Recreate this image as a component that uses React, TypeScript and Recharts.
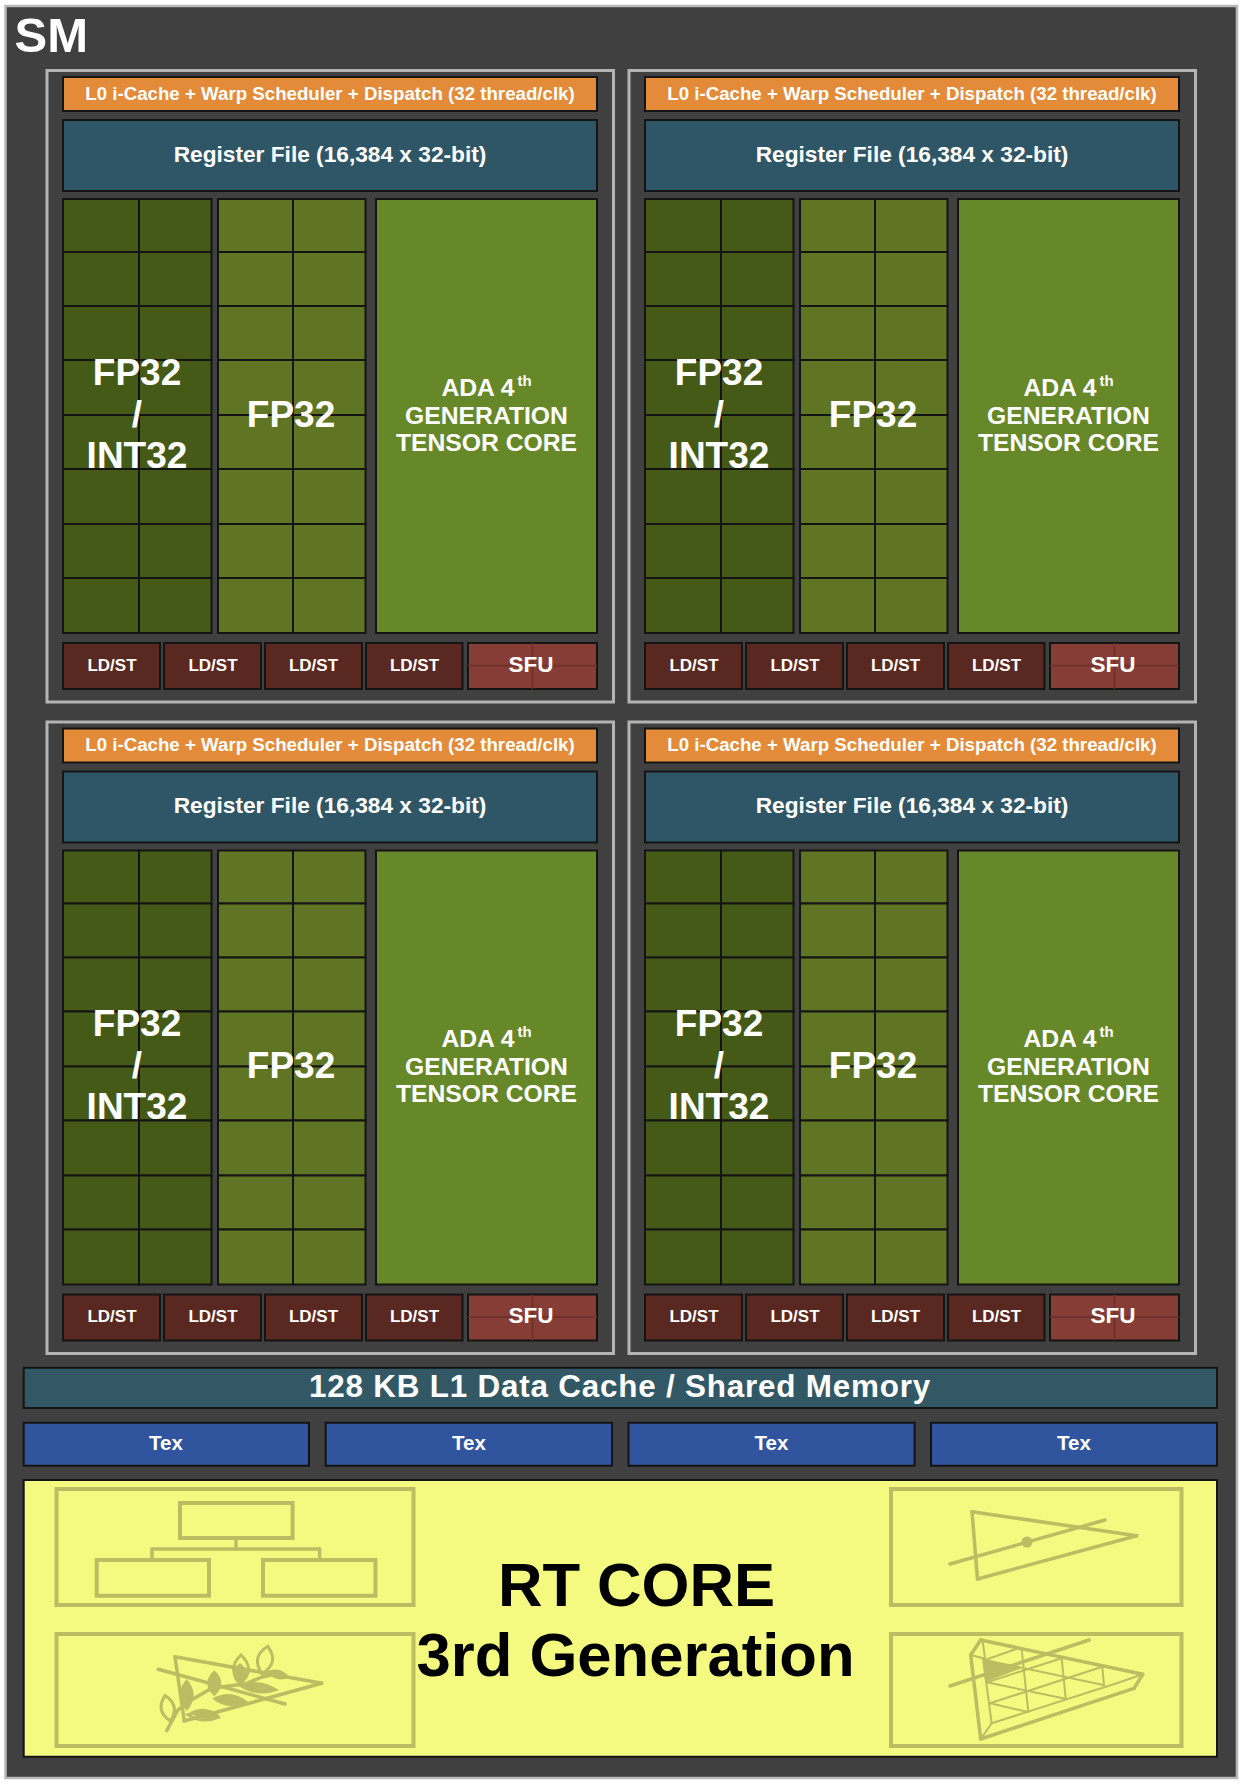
import { ScatterChart, Scatter, XAxis, YAxis, ReferenceArea, ReferenceLine } from "recharts";

// chart units are the pixels of the original figure
const moduleDx = [0, 582];
const moduleDy = [0, 651.4];

const orangeY = [77, 111];
const registerY = [120, 191];
const blockX = [63, 597];
const unitY = [199, 633];
const rowEdges = [199, 252, 306, 360, 415, 469, 524, 578, 633];
const fpIntCols = [[63, 139], [139, 211.5]];
const fpCols = [[218, 293], [293, 365.5]];
const tensorX = [376, 597];
const ldstX = [[63, 160], [164, 261], [265, 362], [366, 462.5]];
const ldstY = [643, 689];
const sfuX = [468, 597];

const texX = [[23.7, 309], [325.7, 612], [628.5, 914.6], [931, 1217]];
const texCentres = [166, 469, 771.5, 1074];
const iconBoxes = [
  [56.5, 413.5, 1489, 1605],
  [56.5, 413.5, 1634, 1746],
  [891, 1181.5, 1489, 1605],
  [891, 1181.5, 1634, 1746],
];
const treeBoxes = [
  [180, 292.6, 1503, 1538],
  [96.7, 209, 1560, 1595.7],
  [263, 375.5, 1560, 1595.7],
];
const treeLinks = [
  [236, 1538, 236, 1549],
  [152, 1549, 319.6, 1549],
  [152, 1549, 152, 1560],
  [319.6, 1549, 319.6, 1560],
];
const rayTriangle = [
  [972, 1511.7, 1136.6, 1535.7],
  [1136.6, 1535.7, 977.5, 1579],
  [977.5, 1579, 972, 1511.7],
  [950, 1564, 1105, 1520],
];
const rayHit = [{ x: 1027, y: 1542 }];
const meshOutline = [
  [980.7, 1640, 1142.7, 1674.3],
  [1142.7, 1674.3, 1134, 1688.3],
  [1134, 1688.3, 980.7, 1739],
  [980.7, 1739, 970.7, 1655],
  [970.7, 1655, 980.7, 1640],
  [950, 1686, 1089, 1640],
];
const meshInner = [
  [983, 1658.3, 991.7, 1723.3],
  [991.7, 1723.3, 1116.7, 1683.3],
  [1116.7, 1683.3, 1142.7, 1674.3],
  [991.7, 1723.3, 980.7, 1739],
  [970.7, 1655, 983, 1658.3],
  [982.7, 1641.7, 985, 1658.3],
  [1021.7, 1650, 1028.3, 1711.7],
  [1061.7, 1658.3, 1065.7, 1698.3],
  [1102.3, 1666.7, 1104, 1685],
  [985, 1660, 1018.3, 1648.3],
  [986.7, 1682.3, 1061.7, 1658.3],
  [990, 1703.3, 1102.3, 1666.7],
  [985, 1660, 1103.3, 1685],
  [986.7, 1682.3, 1066.7, 1699],
  [990, 1703.3, 1028.3, 1712],
];
const wedgeAnchor = [{ x: 983, y: 1660 }];
const wedgeCorners = [[983, 1660], [1022, 1668], [985, 1682]];
const leafTriangle = [
  [175, 1656.7, 321.7, 1683.3],
  [321.7, 1683.3, 184.3, 1721],
  [184.3, 1721, 175, 1656.7],
  [158.3, 1669.3, 285, 1704],
];
const leafStem = [
  [166.7, 1730.7, 178, 1710],
  [178, 1710, 188, 1702],
  [188, 1702, 212, 1688],
  [212, 1688, 245, 1684],
  [245, 1684, 262, 1677],
  [262, 1677, 280, 1673],
];
const filledLeaves = [
  { x: 186.7, y: 1695, w: 7, l: 16, angle: 0 },
  { x: 214.3, y: 1683.3, w: 7, l: 13, angle: 0 },
  { x: 240, y: 1674, w: 7, l: 11, angle: 0 },
  { x: 258.3, y: 1687.7, w: 5.5, l: 21, angle: 97 },
  { x: 230, y: 1700, w: 6, l: 18, angle: 95 },
  { x: 205, y: 1714, w: 5, l: 15, angle: 98 },
  { x: 278.3, y: 1674.5, w: 4.5, l: 12, angle: 105 },
];
const outlineLeaves = [
  { x: 241, y: 1669, w: 7.5, l: 14, angle: 0 },
  { x: 265, y: 1660, w: 7.5, l: 14, angle: 12 },
  { x: 167.7, y: 1708.3, w: 6.5, l: 13, angle: -12 },
  { x: 203, y: 1716, w: 4, l: 15, angle: 95 },
];

const orangeLabel = "L0 i-Cache + Warp Scheduler + Dispatch (32 thread/clk)";
const registerLabel = "Register File (16,384 x 32-bit)";
const ldstCentres = [112, 213, 313.5, 414.5];

const INK = "#141414";
const ICON = "#bcbd62";
const FONT = "'Liberation Sans', Arial, sans-serif";

type Lbl = { x: number; y: number; text: string };

function makeModuleLabels() {
  const out: Record<string, Lbl[]> = { orange: [], reg: [], big: [], tensor: [], th: [], ldst: [], sfu: [] };
  moduleDx.forEach((dx) =>
    moduleDy.forEach((dy) => {
      out.orange.push({ x: 330 + dx, y: 99.5 + dy, text: orangeLabel });
      out.reg.push({ x: 330 + dx, y: 161.5 + dy, text: registerLabel });
      out.big.push({ x: 137 + dx, y: 385 + dy, text: "FP32" });
      out.big.push({ x: 137 + dx, y: 427 + dy, text: "/" });
      out.big.push({ x: 137 + dx, y: 468 + dy, text: "INT32" });
      out.big.push({ x: 291 + dx, y: 427 + dy, text: "FP32" });
      out.tensor.push({ x: 478 + dx, y: 396 + dy, text: "ADA 4" });
      out.tensor.push({ x: 486.5 + dx, y: 423.5 + dy, text: "GENERATION" });
      out.tensor.push({ x: 486.5 + dx, y: 450.5 + dy, text: "TENSOR CORE" });
      out.th.push({ x: 524.5 + dx, y: 385.5 + dy, text: "th" });
      ldstCentres.forEach((c) => out.ldst.push({ x: c + dx, y: 670.5 + dy, text: "LD/ST" }));
      out.sfu.push({ x: 531 + dx, y: 672 + dy, text: "SFU" });
    }),
  );
  return out;
}
const moduleLabels = makeModuleLabels();
const titleLabels: Lbl[] = [{ x: 14.5, y: 51.5, text: "SM" }];
const cacheLabels: Lbl[] = [{ x: 620, y: 1397, text: "128 KB L1 Data Cache / Shared Memory" }];
const texLabels: Lbl[] = texCentres.map((x) => ({ x, y: 1450, text: "Tex" }));
const rtLabels: Lbl[] = [
  { x: 636.5, y: 1606, text: "RT CORE" },
  { x: 635.5, y: 1676, text: "3rd Generation" },
];

function box(k: string, x: number[], y: number[], fill: string, stroke = INK, sw = 2) {
  return (
    <ReferenceArea key={k} x1={x[0]} x2={x[1]} y1={y[0]} y2={y[1]} fill={fill} fillOpacity={fill === "none" ? 0 : 1}
      stroke={stroke} strokeWidth={sw} ifOverflow="visible" />
  );
}

function seg(k: string, s: number[], stroke: string, sw: number) {
  return (
    <ReferenceLine key={k} segment={[{ x: s[0], y: s[1] }, { x: s[2], y: s[3] }]} stroke={stroke} strokeWidth={sw}
      strokeLinecap="round" ifOverflow="visible" />
  );
}

function textSeries(k: string, data: Lbl[], size: number, fill = "#fff", anchor = "middle", spacing = 0) {
  return (
    <Scatter key={k} data={data} isAnimationActive={false}
      shape={(p: any) => (
        <text x={p.cx} y={p.cy} textAnchor={anchor} fontFamily={FONT} fontWeight="bold" fontSize={size} fill={fill}
          letterSpacing={spacing}>
          {p.payload.text}
        </text>
      )} />
  );
}

function leafSeries(k: string, data: any[], filled: boolean) {
  return (
    <Scatter key={k} data={data} isAnimationActive={false}
      shape={(p: any) => {
        const { w, l, angle } = p.payload;
        return (
          <path d={`M0,${-l} Q${2 * w},0 0,${l} Q${-2 * w},0 0,${-l}Z`}
            transform={`translate(${p.cx} ${p.cy}) rotate(${angle})`}
            fill={filled ? ICON : "none"} stroke={ICON} strokeWidth={filled ? 0 : 3} />
        );
      }} />
  );
}

function moduleBlocks(dx: number, dy: number) {
  const X = (a: number[]) => a.map((v) => v + dx);
  const Y = (a: number[]) => a.map((v) => v + dy);
  const id = `${dx}-${dy}`;
  const out: any[] = [];
  out.push(box(`frame${id}`, X([47, 613.5]), Y([70.5, 702]), "none", "#b4b4b4", 3));
  out.push(box(`or${id}`, X(blockX), Y(orangeY), "#e38b38"));
  out.push(box(`rf${id}`, X(blockX), Y(registerY), "#2f5666"));
  rowEdges.slice(1).forEach((bottom, r) => {
    fpIntCols.forEach((c, i) => out.push(box(`a${id}${r}${i}`, X(c), Y([rowEdges[r], bottom]), "#445a16")));
    fpCols.forEach((c, i) => out.push(box(`b${id}${r}${i}`, X(c), Y([rowEdges[r], bottom]), "#5f7523")));
  });
  out.push(box(`t${id}`, X(tensorX), Y(unitY), "#668829"));
  ldstX.forEach((c, i) => out.push(box(`l${id}${i}`, X(c), Y(ldstY), "#592821")));
  out.push(box(`s${id}`, X(sfuX), Y(ldstY), "#863d35"));
  return out;
}

function sfuCross(dx: number, dy: number) {
  return [
    seg(`cv${dx}${dy}`, [532.5 + dx, 644 + dy, 532.5 + dx, 688 + dy], "#6f332c", 2),
    seg(`ch${dx}${dy}`, [469 + dx, 665.7 + dy, 596 + dx, 665.7 + dy], "#6f332c", 2),
  ];
}

export default function App() {
  return (
    <div style={{ position: "absolute", left: 0, top: 0, width: 1244, height: 1784, background: "#fff" }}>
      <ScatterChart width={1244} height={1784} margin={{ top: 0, right: 0, bottom: 0, left: 0 }}>
        <XAxis type="number" dataKey="x" domain={[0, 1244]} hide />
        <YAxis type="number" dataKey="y" domain={[0, 1784]} reversed hide />

        {box("panel", [5.5, 1237], [6, 1778], "#404040", "#b9b9b9", 2.5)}
        {moduleDx.map((dx) => moduleDy.map((dy) => moduleBlocks(dx, dy)))}
        {box("l1", [23.7, 1217], [1367.7, 1408], "#315864")}
        {texX.map((x, i) => box(`tex${i}`, x, [1422.7, 1465.7], "#30549e"))}
        {box("rt", [23.7, 1217], [1480, 1756.7], "#f4f97f")}
        {iconBoxes.map((b, i) => box(`icon${i}`, [b[0], b[1]], [b[2], b[3]], "none", ICON, 4))}
        {treeBoxes.map((b, i) => box(`tree${i}`, [b[0], b[1]], [b[2], b[3]], "none", ICON, 4))}

        {moduleDx.map((dx) => moduleDy.map((dy) => sfuCross(dx, dy)))}
        {treeLinks.map((s, i) => seg(`tl${i}`, s, ICON, 3.5))}
        {rayTriangle.map((s, i) => seg(`rt${i}`, s, ICON, 3.5))}
        {meshOutline.map((s, i) => seg(`mo${i}`, s, ICON, 3.5))}
        {meshInner.map((s, i) => seg(`mi${i}`, s, ICON, 2))}
        {leafTriangle.map((s, i) => seg(`lt${i}`, s, ICON, 3.5))}
        {leafStem.map((s, i) => seg(`ls${i}`, s, ICON, 3.5))}

        <Scatter data={rayHit} isAnimationActive={false} fill={ICON}
          shape={(p: any) => <circle cx={p.cx} cy={p.cy} r={5.5} fill={ICON} />} />
        <Scatter data={wedgeAnchor} isAnimationActive={false} fill={ICON}
          shape={(p: any) => (
            <polygon fill={ICON}
              points={wedgeCorners.map((c) => `${p.cx + c[0] - wedgeAnchor[0].x},${p.cy + c[1] - wedgeAnchor[0].y}`).join(" ")} />
          )} />
        {leafSeries("leafF", filledLeaves, true)}
        {leafSeries("leafO", outlineLeaves, false)}

        {textSeries("sm", titleLabels, 49, "#fff", "start")}
        {textSeries("or", moduleLabels.orange, 18.7)}
        {textSeries("reg", moduleLabels.reg, 22.7)}
        {textSeries("big", moduleLabels.big, 37)}
        {textSeries("ten", moduleLabels.tensor, 24.7)}
        {textSeries("th", moduleLabels.th, 15)}
        {textSeries("ld", moduleLabels.ldst, 17)}
        {textSeries("sfu", moduleLabels.sfu, 22.5)}
        {textSeries("l1t", cacheLabels, 31.4, "#fff", "middle", 0.8)}
        {textSeries("tx", texLabels, 20.5)}
        {textSeries("rtt", rtLabels, 61.6, "#000")}
      </ScatterChart>
    </div>
  );
}
